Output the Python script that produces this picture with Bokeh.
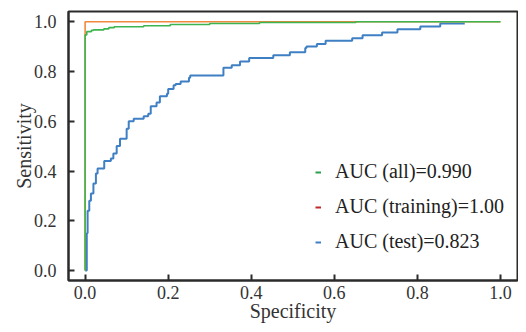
from bokeh.plotting import figure
from bokeh.models import Legend, LegendItem, Range1d, FixedTicker, PrintfTickFormatter
from bokeh.embed import file_html
from bokeh.resources import INLINE

# ROC data (x = Specificity axis as labelled, y = Sensitivity)
test_x = [0.0, 0.004, 0.004, 0.006, 0.010, 0.014, 0.020, 0.026, 0.030, 0.046, 0.062, 0.068, 0.076,
          0.084, 0.100, 0.105, 0.117, 0.141, 0.152, 0.158, 0.172, 0.180, 0.197, 0.200, 0.213,
          0.218, 0.230, 0.250, 0.253, 0.333, 0.353, 0.373, 0.395, 0.453, 0.493, 0.530, 0.533,
          0.558, 0.579, 0.643, 0.668, 0.715, 0.752, 0.807, 0.855, 0.914]
test_y = [0.0, 0.02, 0.15, 0.24, 0.28, 0.31, 0.35, 0.39, 0.41, 0.44, 0.45, 0.47, 0.50,
          0.53, 0.57, 0.60, 0.61, 0.62, 0.63, 0.66, 0.675, 0.70, 0.71, 0.73, 0.745,
          0.75, 0.76, 0.775, 0.784, 0.815, 0.825, 0.84, 0.854, 0.865, 0.877, 0.894, 0.90,
          0.91, 0.923, 0.934, 0.946, 0.957, 0.97, 0.981, 0.993, 0.993]

all_x = [0.0, 0.0, 0.004, 0.015, 0.020, 0.045, 0.057, 0.070, 0.141, 0.205, 0.300, 0.420, 0.652, 1.0]
all_y = [0.0, 0.947, 0.960, 0.965, 0.967, 0.971, 0.976, 0.980, 0.984, 0.989, 0.993, 0.997, 1.0, 1.0]

train_x = [0.0, 0.0, 1.0]
train_y = [0.0, 1.0, 1.0]

labels = ["AUC (all)=0.990", "AUC (training)=1.00", "AUC (test)=0.823"]
ticks = [0.0, 0.2, 0.4, 0.6, 0.8, 1.0]

FONT = "Liberation Serif"
DARK = "#2b2b2b"
NAN = float("nan")

p = figure(width=518, height=324, output_backend="svg", toolbar_location=None,
           x_range=Range1d(-0.04, 1.041), y_range=Range1d(-0.04, 1.041),
           min_border_left=68, min_border_right=1, min_border_top=11, min_border_bottom=0)
p.background_fill_color = "white"
p.border_fill_color = "white"
p.outline_line_color = DARK
p.outline_line_width = 2
p.xgrid.visible = False
p.ygrid.visible = False

for ax in (p.xaxis[0], p.yaxis[0]):
    ax.ticker = FixedTicker(ticks=ticks)
    ax.formatter = PrintfTickFormatter(format="%.1f")
    ax.minor_tick_line_color = None
    ax.major_tick_in = 6
    ax.major_tick_out = 0
    ax.major_tick_line_width = 2
    ax.major_tick_line_color = DARK
    ax.axis_line_color = DARK
    ax.axis_line_width = 2
    ax.major_label_text_font = FONT
    ax.major_label_text_font_size = "18px"
    ax.major_label_text_color = "#333333"
    ax.axis_label_text_font = FONT
    ax.axis_label_text_font_size = "20px"
    ax.axis_label_text_font_style = "normal"
    ax.axis_label_text_color = "#333333"

p.xaxis.axis_label = "Specificity"
p.yaxis.axis_label = "Sensitivity"
p.xaxis.major_label_standoff = 5
p.xaxis.axis_label_standoff = -2
p.yaxis.major_label_standoff = 12
p.yaxis.axis_label_standoff = -4

p.step(test_x, test_y, mode="after", line_color="#3f7fc4", line_width=2)
p.step(train_x, train_y, mode="after", line_color="#f0883e", line_width=1.6)
p.step(all_x, all_y, mode="after", line_color="#3cb550", line_width=1.6)

# legend proxies (legend colours differ from curve colours in the reference)
r_all = p.line([NAN], [NAN], line_color="#2a9f4a", line_width=2)
r_tr = p.line([NAN], [NAN], line_color="#c0282a", line_width=2)
r_te = p.line([NAN], [NAN], line_color="#3f7fc4", line_width=2)

legend = Legend(items=[LegendItem(label=labels[0], renderers=[r_all]),
                       LegendItem(label=labels[1], renderers=[r_tr]),
                       LegendItem(label=labels[2], renderers=[r_te])],
                location=(247, 27), border_line_color=None, background_fill_alpha=0,
                padding=0, margin=0, spacing=12, glyph_width=6, glyph_height=16,
                label_height=16, label_standoff=14,
                label_text_font=FONT, label_text_font_size="20px",
                label_text_color="#222222")
p.add_layout(legend, "center")

open("out.html", "w").write(file_html(p, INLINE))
